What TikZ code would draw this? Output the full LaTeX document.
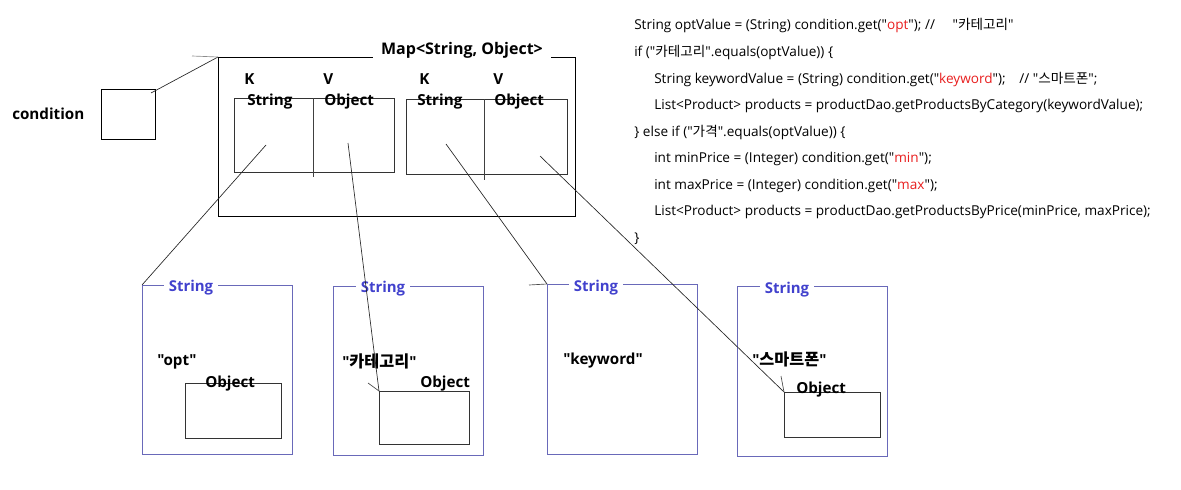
\documentclass[tikz,border=0pt]{standalone}
\usepackage{fontspec}
\newfontfamily\lat{Open Sans}
\newfontfamily\kr{Noto Sans CJK KR}
\definecolor{boxblue}{RGB}{105,105,185}
\definecolor{txtblue}{RGB}{65,65,205}
\definecolor{codered}{RGB}{232,30,30}
\newcommand{\rd}[1]{\textcolor{codered}{#1}}
\newcommand{\krb}[1]{{\kr\bfseries\fontsize{12.2}{13}\selectfont #1}}
\begin{document}
\begin{tikzpicture}[x=0.75pt,y=-0.75pt, font=\lat,
  bx/.style args={#1x#2}{draw, inner sep=0, line width=0.75pt, minimum width=#1*0.75pt, minimum height=#2*0.75pt, anchor=north west},
  sbox/.style={bx=#1, draw=boxblue},
  lbl/.style={font=\lat\bfseries\fontsize{11.4}{13}\selectfont, inner sep=0, anchor=west, text height=8pt, text depth=2pt},
  ttl/.style={font=\lat\bfseries\fontsize{11.2}{13}\selectfont, text=txtblue, fill=white, inner ysep=1pt, inner xsep=4pt, text height=8pt, text depth=2pt},
  codeln/.style={font=\lat\fontsize{10.2}{12}\selectfont, inner sep=0, anchor=west, text height=7.5pt, text depth=2pt},
  conn/.style={line width=0.5pt, draw=black!85},
  tick/.style={line width=0.5pt, draw=black!70},
  divl/.style={line width=0.75pt, draw=black!75}
]
\useasboundingbox (0,0) rectangle (1181,489);

% condition
\node[lbl] (condlbl) at (12,115) {condition};
\node[bx=54x50] (cond) at (101,89) {};

% Map box
\node[bx=357x159] (map) at (218,57) {};
\node[ttl, text=black, inner xsep=6pt, font=\lat\bfseries\fontsize{12}{13}\selectfont] (maptitle) at (462,50) {Map<String, Object>};

% entry cells
\node[bx=160x74, draw=black!80] (pairL) at (234,98) {};
\draw[divl] (313,98) -- (313,177);
\node[bx=161x75, draw=black!80] (pairR) at (406,99) {};
\draw[divl] (484,99) -- (484,180);

\node[lbl] (kL) at (244,80) {K};
\node[lbl] (vL) at (323,80) {V};
\node[lbl] (sL) at (247,101) {String};
\node[lbl] (oL) at (324,101) {Object};
\node[lbl] (kR) at (419,80) {K};
\node[lbl] (vR) at (493,80) {V};
\node[lbl] (sR) at (417,101) {String};
\node[lbl] (oR) at (494,101) {Object};

% lower String boxes
\node[sbox=150x169] (s1) at (142,285) {};
\node[sbox=150x169] (s2) at (333,286) {};
\node[sbox=150x170] (s3) at (547,284) {};
\node[sbox=150x170] (s4) at (737,286) {};
\node[ttl] (t1) at (191,287) {String};
\node[ttl] (t2) at (383,288) {String};
\node[ttl] (t3) at (596,287) {String};
\node[ttl] (t4) at (787,289) {String};

\node[lbl] (v1) at (157,361) {"opt"};
\node[lbl] (v2) at (342,363) {"\krb{카테고리}"};
\node[lbl] (v3) at (563,360) {"keyword"};
\node[lbl] (v4) at (752,361) {"\krb{스마트폰}"};

% Object boxes
\node[bx=96x55, draw=black!80] (o1) at (185,383) {};
\node[bx=90x53, draw=black!80] (o2) at (379,391) {};
\node[bx=96x45, draw=black!80] (o4) at (784,392) {};
\node[lbl] (ol1) at (205,383) {Object};
\node[lbl] (ol2) at (420,383) {Object};
\node[lbl] (ol4) at (796,389) {Object};

% connector start points
\coordinate (c0) at (151,93);
\coordinate (c0b) at (192,56);
\coordinate (c1) at (266,145);
\coordinate (c2) at (348,143);
\coordinate (c3) at (446,144);
\coordinate (c4) at (540,156);
\coordinate (k2) at (368,383);
\coordinate (k3) at (529,285);
\coordinate (k4) at (781,376);

\draw[conn] (c0) -- (map.north west);
\draw[tick, draw=black!45] (c0b) -- (map.north west);
\draw[conn] (c1) -- (s1.north west);
\draw[conn] (c2) -- (o2.north west);
\draw[tick] (k2) -- (o2.north west);
\draw[conn] (c3) -- (s3.north west);
\draw[tick] (k3) -- (s3.north west);
\draw[conn] (c4) -- (o4.north west);
\draw[tick] (k4) -- (o4.north west);

% code
\node[codeln] (code1) at (634,26) {String optValue = (String) condition.get("\rd{opt}"); //\hspace{1.3em}"{\kr 카테고리}"};
\node[codeln] (code2) at (634,53) {if ("{\kr 카테고리}".equals(optValue)) \{};
\node[codeln] (code3) at (654,80) {String keywordValue = (String) condition.get("\rd{keyword}");\hspace{1em}// "{\kr 스마트폰}";};
\node[codeln] (code4) at (654,106) {List<Product> products = productDao.getProductsByCategory(keywordValue);};
\node[codeln] (code5) at (634,133) {\} else if ("{\kr 가격}".equals(optValue)) \{};
\node[codeln] (code6) at (654,159) {int minPrice = (Integer) condition.get("\rd{min}");};
\node[codeln] (code7) at (654,186) {int maxPrice = (Integer) condition.get("\rd{max}");};
\node[codeln] (code8) at (654,212) {List<Product> products = productDao.getProductsByPrice(minPrice, maxPrice);};
\node[codeln] (code9) at (634,239) {\}};
\end{tikzpicture}
\end{document}
